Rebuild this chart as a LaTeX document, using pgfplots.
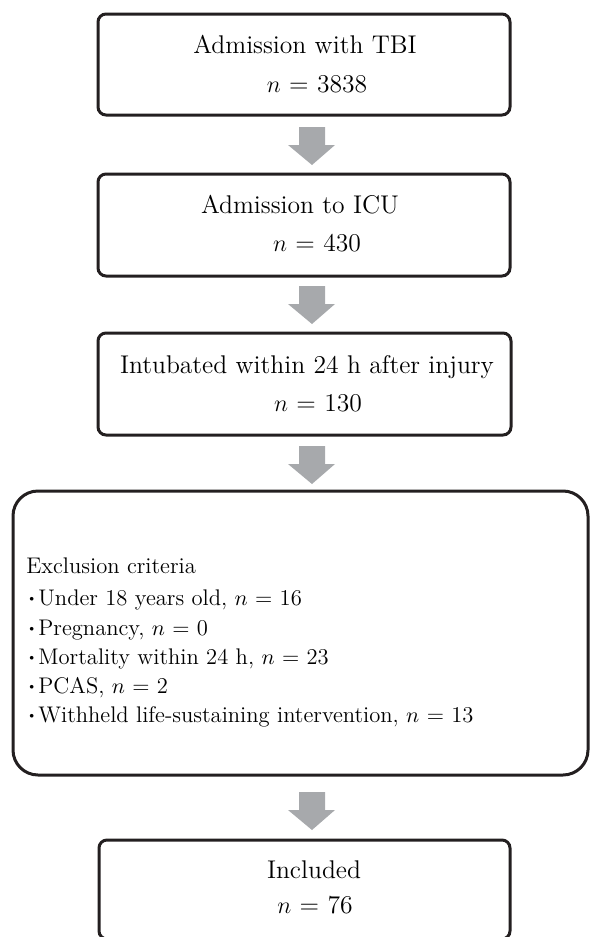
\documentclass[border=0pt]{standalone}
\usepackage{pgfplots}
\pgfplotsset{compat=1.18}
\definecolor{boxline}{RGB}{35,31,32}
\definecolor{arrowgray}{RGB}{167,169,172}
\newcommand{\bul}{\makebox[6.5pt][c]{\raisebox{0.1em}{\scalebox{0.6}{\textbullet}}}}
\tikzset{big/.style={anchor=base, inner sep=0, font=\fontsize{12.8}{15}\selectfont},
         small/.style={anchor=base west, inner sep=0, font=\fontsize{11.3}{14}\selectfont}}
\begin{document}
\begin{tikzpicture}
\begin{axis}[
  width=294.5pt, height=468.5pt, scale only axis,
  xmin=0, xmax=589, ymin=0, ymax=937, y dir=reverse,
  hide axis, clip=false]
% arrows
\addplot[fill=arrowgray, draw=none] coordinates {(299,127) (325,127) (325,145) (335,145) (312,165) (288,145) (299,145)} -- cycle;
\addplot[fill=arrowgray, draw=none] coordinates {(299,286) (325,286) (325,304) (335,304) (312,324) (288,304) (299,304)} -- cycle;
\addplot[fill=arrowgray, draw=none] coordinates {(299,446) (325,446) (325,464) (335,464) (312,484) (288,464) (299,464)} -- cycle;
\addplot[fill=arrowgray, draw=none] coordinates {(299,792) (325,792) (325,810) (335,810) (312,830) (288,810) (299,810)} -- cycle;
% boxes
\draw[boxline, line width=1.5pt, rounded corners=4pt] (axis cs:98,14) rectangle (axis cs:510,115);
\draw[boxline, line width=1.5pt, rounded corners=4pt] (axis cs:98,174) rectangle (axis cs:510,276);
\draw[boxline, line width=1.5pt, rounded corners=4pt] (axis cs:98,333) rectangle (axis cs:511,435);
\draw[boxline, line width=1.5pt, rounded corners=12.5pt] (axis cs:13,491) rectangle (axis cs:588,775);
\draw[boxline, line width=1.5pt, rounded corners=4pt] (axis cs:99,840) rectangle (axis cs:510,939);
% texts
\node[big] at (axis cs:305,54) {Admission with TBI};
\node[big] at (axis cs:317,92) {$n$ = 3838};
\node[big] at (axis cs:300,213) {Admission to ICU};
\node[big] at (axis cs:317,251) {$n$ = 430};
\node[big] at (axis cs:307,373) {Intubated within 24 h after injury};
\node[big] at (axis cs:318,411) {$n$ = 130};
\node[big] at (axis cs:314,878) {Included};
\node[big] at (axis cs:315,913) {$n$ = 76};
\node[small] at (axis cs:26,573) {Exclusion criteria};
\node[small] at (axis cs:25,605) {\bul Under 18 years old, $n$ = 16};
\node[small] at (axis cs:25,635) {\bul Pregnancy, $n$ = 0};
\node[small] at (axis cs:25,664) {\bul Mortality within 24 h, $n$ = 23};
\node[small] at (axis cs:25,693) {\bul PCAS, $n$ = 2};
\node[small] at (axis cs:25,722) {\bul Withheld life-sustaining intervention, $n$ = 13};
\end{axis}
\pgfresetboundingbox
\path[use as bounding box] (current axis.south west) rectangle (current axis.north east);
\end{tikzpicture}
\end{document}
